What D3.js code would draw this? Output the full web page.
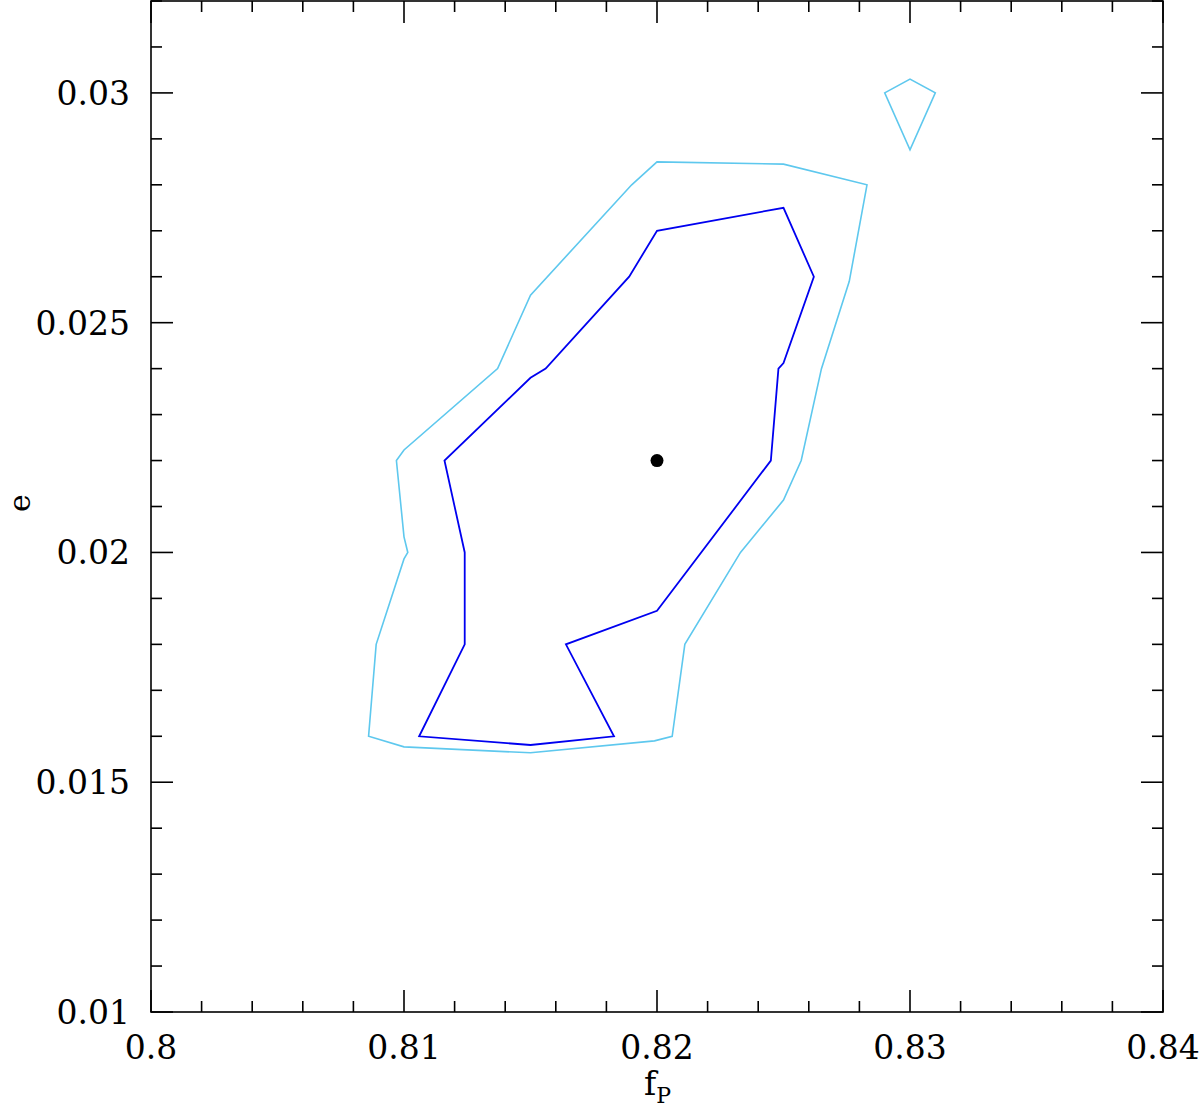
<!DOCTYPE html>
<html><head><meta charset="utf-8">
<script src="https://cdn.jsdelivr.net/npm/d3@7"></script>
<style>body{margin:0;background:#fff}svg{display:block}text{font-family:"DejaVu Serif",serif;fill:#000}</style>
</head><body>
<script>
// Data
const xTicks = [0.80, 0.81, 0.82, 0.83, 0.84];
const yTicks = [0.01, 0.015, 0.02, 0.025, 0.03];
const xTickLabels = ["0.8", "0.81", "0.82", "0.83", "0.84"];
const yTickLabels = ["0.01", "0.015", "0.02", "0.025", "0.03"];
const outerContour = [
  [0.8086,0.0160],[0.8089,0.0180],[0.8100,0.01986],[0.81015,0.0200],[0.8100,0.02034],
  [0.8097,0.0220],[0.8100,0.02223],[0.8137,0.0240],[0.8150,0.0256],[0.8190,0.0280],
  [0.8200,0.0285],[0.8250,0.02845],[0.8283,0.0280],[0.8276,0.0259],[0.8265,0.0240],
  [0.8257,0.0220],[0.8250,0.02114],[0.8233,0.0200],[0.8211,0.0180],[0.8206,0.0160],
  [0.8199,0.0159],[0.8150,0.01564],[0.8100,0.01577]
];
const outerIsland = [[0.8290,0.0300],[0.8300,0.0303],[0.8310,0.0300],[0.8300,0.02876]];
const innerContour = [
  [0.8106,0.0160],[0.8124,0.0180],[0.8124,0.0200],[0.8116,0.0220],[0.8150,0.0238],
  [0.8156,0.0240],[0.8189,0.0260],[0.8200,0.0270],[0.8250,0.0275],[0.8262,0.0260],
  [0.8250,0.02412],[0.8248,0.0240],[0.8245,0.0220],[0.8200,0.01873],[0.8164,0.0180],
  [0.8183,0.0160],[0.8150,0.01581]
];
const bestFit = [[0.820, 0.022]];

const W = 1200, H = 1108;
const L = 151, R = 1163, T = 1, B = 1012;
const svg = d3.select("body").append("svg").attr("width", W).attr("height", H);
const x = d3.scaleLinear().domain([0.80, 0.84]).range([L, R]);
const y = d3.scaleLinear().domain([0.01, 0.032]).range([B, T]);

const line = d3.line().x(d => x(d[0])).y(d => y(d[1])).curve(d3.curveLinearClosed);
const g = svg.append("g");
g.append("path").attr("d", line(outerContour)).attr("fill","none").attr("stroke","#5ec8ee").attr("stroke-width",1.6);
g.append("path").attr("d", line(outerIsland)).attr("fill","none").attr("stroke","#5ec8ee").attr("stroke-width",1.6);
g.append("path").attr("d", line(innerContour)).attr("fill","none").attr("stroke","#0000f0").attr("stroke-width",1.8);
g.selectAll("circle").data(bestFit).join("circle")
  .attr("cx", d => x(d[0])).attr("cy", d => y(d[1])).attr("r", 6.5).attr("fill","#000");

// frame
svg.append("rect").attr("x", L).attr("y", T).attr("width", R-L).attr("height", B-T)
  .attr("fill","none").attr("stroke","#000").attr("stroke-width",1.6);

const xMinor = d3.range(0, 21).map(i => 0.80 + i*0.002);
const yMinor = d3.range(0, 23).map(i => 0.01 + i*0.001);
const isMajX = v => Math.abs(v*100 - Math.round(v*100)) < 1e-6;
const isMajY = v => Math.abs(v*200 - Math.round(v*200)) < 1e-6;
const tk = svg.append("g").attr("stroke","#000").attr("stroke-width",1.6);
xMinor.forEach(v => {
  const len = isMajX(v) ? 22 : 11;
  tk.append("line").attr("x1", x(v)).attr("x2", x(v)).attr("y1", B).attr("y2", B-len);
  tk.append("line").attr("x1", x(v)).attr("x2", x(v)).attr("y1", T).attr("y2", T+len);
});
yMinor.forEach(v => {
  const len = isMajY(v) ? 22 : 11;
  tk.append("line").attr("x1", L).attr("x2", L+len).attr("y1", y(v)).attr("y2", y(v));
  tk.append("line").attr("x1", R).attr("x2", R-len).attr("y1", y(v)).attr("y2", y(v));
});

svg.append("g").selectAll("text").data(xTicks).join("text")
  .attr("x", d => x(d)).attr("y", 1059).attr("text-anchor","middle")
  .attr("font-size", 33).text((d,i) => xTickLabels[i]);
svg.append("g").selectAll("text").data(yTicks).join("text")
  .attr("x", 130).attr("y", d => y(d) + 12).attr("text-anchor","end")
  .attr("font-size", 33).text((d,i) => yTickLabels[i]);

const xl = svg.append("text").attr("x", 644).attr("y", 1095).attr("font-size", 33);
xl.append("tspan").text("f");
xl.append("tspan").attr("font-size", 22).attr("dy", 8).text("P");
svg.append("text").attr("transform","translate(30,503) rotate(-90)").attr("text-anchor","middle")
  .attr("font-size", 30).text("e");
</script>
</body></html>
